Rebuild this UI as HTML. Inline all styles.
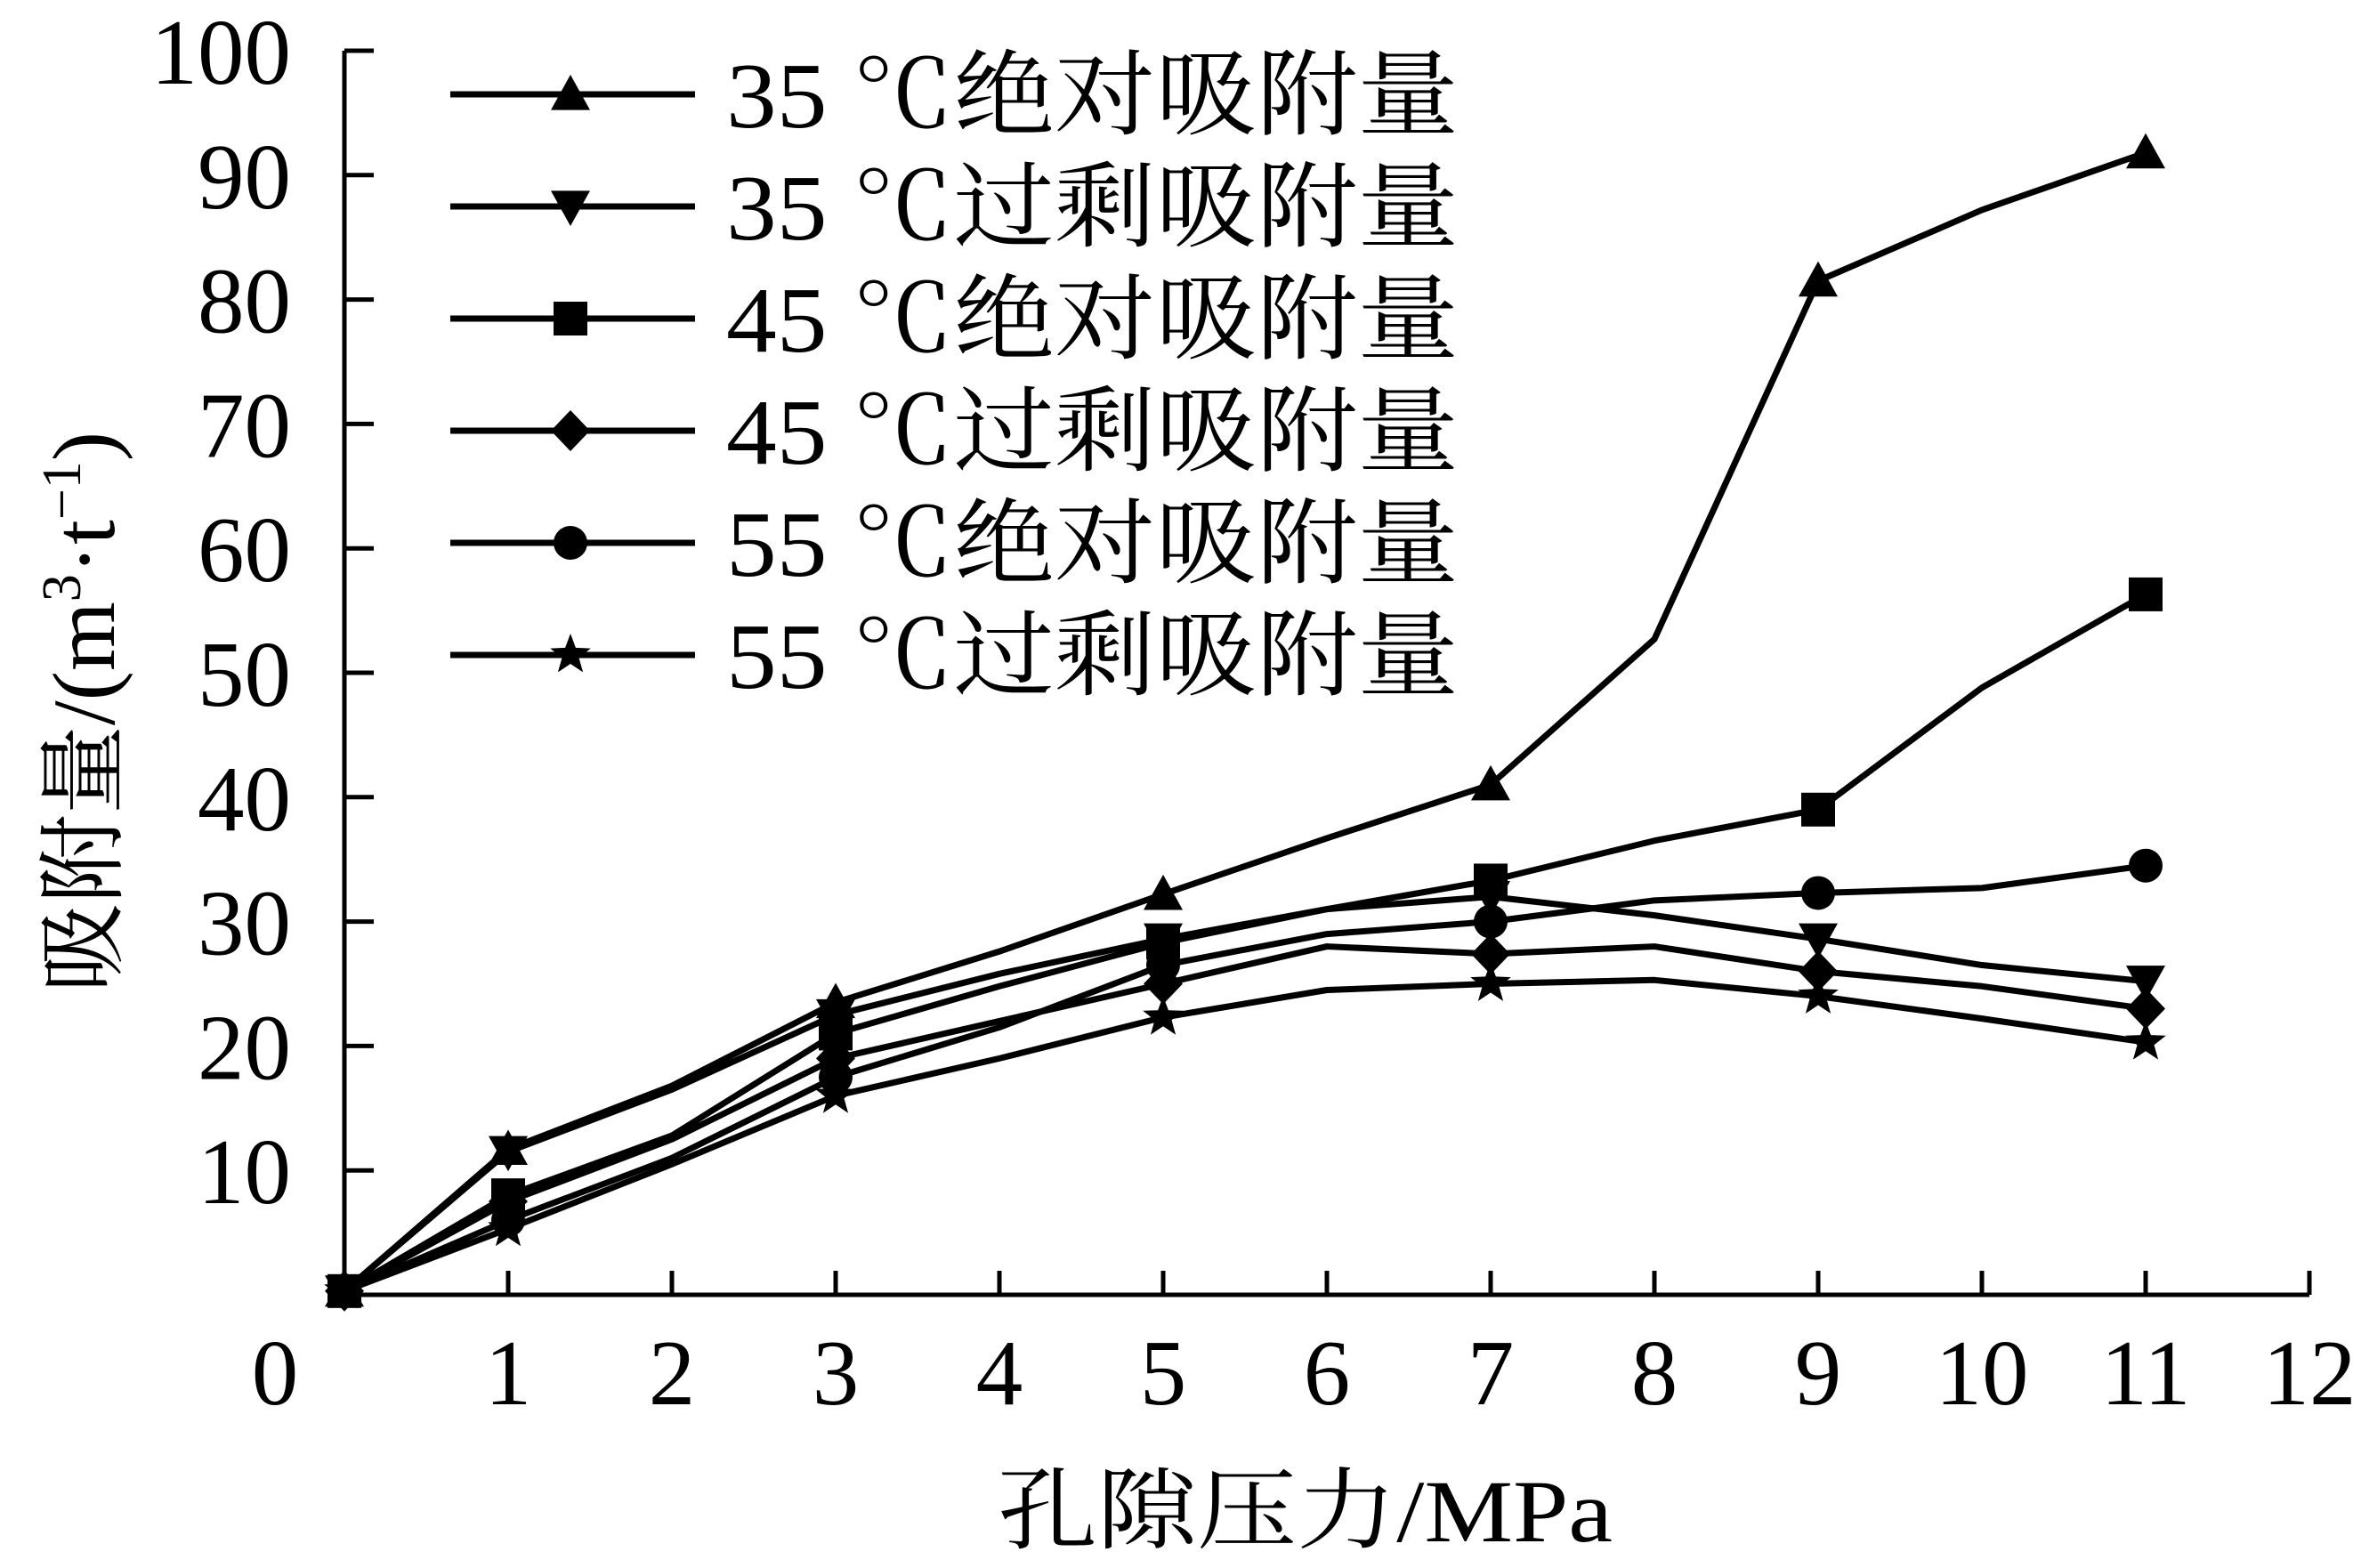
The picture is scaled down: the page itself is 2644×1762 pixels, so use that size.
<!DOCTYPE html>
<html><head><meta charset="utf-8"><style>
html,body{margin:0;padding:0;background:#fff}
svg{display:block}
text{font-family:"Liberation Serif","Noto Serif CJK SC","Noto Sans CJK SC",serif;fill:#000}
</style></head><body>
<svg id="chart" width="2644" height="1762" viewBox="0 0 2644 1762" xmlns="http://www.w3.org/2000/svg">
<g id="axes"></g>
<g id="series"></g>
<g id="legend"></g>
<text transform="translate(128,800) rotate(-90)" text-anchor="middle" font-size="100">吸附量/(m<tspan font-size="62" dy="-38">3</tspan><tspan dy="38">·t</tspan><tspan font-size="62" dy="-38">−1</tspan><tspan dy="38">)</tspan></text>
<text x="1121" y="1732" font-size="100" textLength="691" lengthAdjust="spacingAndGlyphs">孔隙压力/MPa</text>
</svg>
<script>
const xTicks = [0,1,2,3,4,5,6,7,8,9,10,11,12];
const yTicks = [10,20,30,40,50,60,70,80,90,100];
const pressures = [0,1,2,3,4,5,6,7,8,9,10,11];
const abs35 = [0.3,11.7,16.8,23.5,27.6,32.2,36.7,41,52.7,81.5,87.2,91.8];
const exc35 = [0.3,11.5,16.5,22.5,25.8,28.6,31,32,30.5,28.6,26.5,25.2];
const abs45 = [0.3,8,12.8,21,24.8,28.3,31,33.3,36.5,39,48.8,56.3];
const exc45 = [0.3,7.5,12.5,19,22,25,28,27.4,28,26,24.8,23];
const abs55 = [0.3,6,11,17.5,21.5,26.5,29,30,31.7,32.3,32.7,34.5];
const exc55 = [0.3,5.3,10.5,16,19,22.3,24.5,25,25.3,24,22.2,20.3];
const seriesNames = ["35 ℃绝对吸附量","35 ℃过剩吸附量","45 ℃绝对吸附量","45 ℃过剩吸附量","55 ℃绝对吸附量","55 ℃过剩吸附量"];
const markerTypes = ["tri-up","tri-down","square","diamond","circle","star"];
const allSeries = [abs35,exc35,abs45,exc45,abs55,exc55];

const NS="http://www.w3.org/2000/svg";
const X0=387,X1=2595,Y0=1455,Y1=57;
function sx(v){return X0+(v-0)/(12-0)*(X1-X0);}
function sy(v){return Y0-(v-0)/(100-0)*(Y0-Y1);}
function mk(tag,attrs,parent){const e=document.createElementNS(NS,tag);for(const k in attrs)e.setAttribute(k,attrs[k]);parent.appendChild(e);return e;}

const axes=document.getElementById('axes');
let ax=mk('path',{d:`M${X0},${Y1}V${Y0}H${X1}`,stroke:'#000','stroke-width':5,fill:'none'},axes);


yTicks.forEach(v=>{
  const t=mk('line',{x1:X0,x2:X0+33,y1:sy(v),y2:sy(v),stroke:'#000','stroke-width':5},axes);
  
  
  const l=mk('text',{x:327,y:sy(v)+37,'text-anchor':'end','font-size':105},axes);
  l.textContent=v;
  
  
});
xTicks.forEach(v=>{
  if(v>0){
    const t=mk('line',{x1:sx(v),x2:sx(v),y1:Y0,y2:Y0-27,stroke:'#000','stroke-width':5},axes);
    
    
  }
  const l=mk('text',{x:v===0?309:sx(v),y:1578,'text-anchor':'middle','font-size':105},axes);
  l.textContent=v;
  
  
});

function marker(type,x,y,parent){
  let e;
  const s=22;
  if(type==='tri-up') e=mk('polygon',{points:`${x},${y-s} ${x-s},${y+s*0.8} ${x+s},${y+s*0.8}`},parent);
  else if(type==='tri-down') e=mk('polygon',{points:`${x},${y+s} ${x-s},${y-s*0.8} ${x+s},${y-s*0.8}`},parent);
  else if(type==='square') e=mk('rect',{x:x-19,y:y-19,width:38,height:38},parent);
  else if(type==='diamond') e=mk('polygon',{points:`${x},${y-23} ${x+22},${y} ${x},${y+23} ${x-22},${y}`},parent);
  else if(type==='circle') e=mk('circle',{cx:x,cy:y,r:19},parent);
  else {
    let p=[];for(let i=0;i<10;i++){const r=i%2?10:24;const a=-Math.PI/2+i*Math.PI/5;p.push((x+r*Math.cos(a)).toFixed(1)+','+(y+r*Math.sin(a)).toFixed(1));}
    e=mk('polygon',{points:p.join(' ')},parent);
  }
  e.setAttribute('fill','#000');
  return e;
}

const sg=document.getElementById('series');
allSeries.forEach((vals,i)=>{
  const g=mk('g',{},sg);
  
  
  const d=vals.map((v,j)=>(j?'L':'M')+sx(pressures[j])+','+sy(v)).join('');
  const p=mk('path',{d:d,stroke:'#000','stroke-width':7,fill:'none','stroke-linejoin':'round'},g);
  
  
  vals.forEach((v,j)=>{
    if(pressures[j]===0||pressures[j]%2===1){
      const m=marker(markerTypes[i],sx(pressures[j]),sy(v),g);
      
      
    }
  });
});

const lg=document.getElementById('legend');
seriesNames.forEach((n,i)=>{
  const y=106+i*126;
  const g=mk('g',{},lg);
  
  
  mk('line',{x1:506,x2:781,y1:y,y2:y,stroke:'#000','stroke-width':7},g);
  marker(markerTypes[i],641,y,g);
  const t=mk('text',{x:816,y:y+37,'font-size':105,textLength:823,lengthAdjust:'spacingAndGlyphs'},g);
  t.textContent=n;
});
</script>
</body></html>
